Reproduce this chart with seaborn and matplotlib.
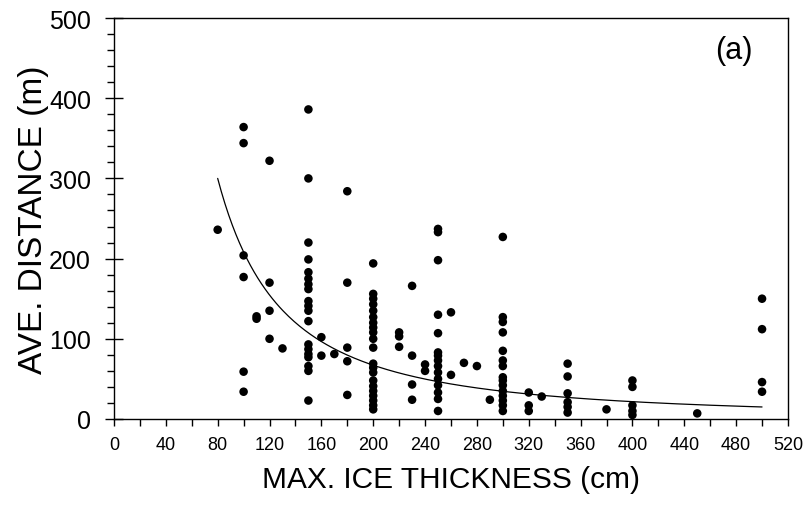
import numpy as np
import pandas as pd
import matplotlib.pyplot as plt
from matplotlib.ticker import MultipleLocator
import seaborn as sns

# max ice thickness (cm) -> measured average distances (m) at that thickness
thickness = [80, 100, 110, 120, 130, 150, 160, 170, 180, 200, 220, 230, 240, 250,
             260, 270, 280, 290, 300, 320, 330, 350, 380, 400, 450, 500]
distances = [
    [236],
    [364, 344, 204, 177, 59, 34],
    [125, 128],
    [322, 170, 135, 100],
    [88],
    [386, 300, 220, 199, 183, 175, 168, 162, 147, 141, 135, 122, 93, 87, 81, 77, 66, 60, 23],
    [102, 79],
    [81],
    [284, 170, 89, 72, 30],
    [194, 156, 150, 143, 135, 127, 120, 114, 108, 100, 89, 69, 64, 58, 48, 41, 35, 29, 23, 17, 12],
    [108, 103, 90],
    [166, 79, 43, 24],
    [68, 60],
    [237, 233, 198, 130, 107, 83, 79, 73, 66, 58, 50, 42, 33, 25, 10],
    [133, 55],
    [70],
    [66],
    [24],
    [227, 127, 121, 108, 85, 73, 66, 52, 48, 42, 35, 29, 23, 17, 10],
    [33, 17, 10],
    [28],
    [69, 53, 32, 21, 15, 8],
    [12],
    [48, 40, 17, 10, 5],
    [7],
    [150, 112, 46, 34],
]

# power-law fit  d = a * (h / 80) ** b, drawn from 80 to 500 cm
fit_a = 300.0
fit_b = -1.635
fit_range = (80, 500)

rows = [(h, d) for h, ds in zip(thickness, distances) for d in ds]
df = pd.DataFrame(rows, columns=['thickness', 'distance'])

h_fit = np.linspace(fit_range[0], fit_range[1], 300)
fit_df = pd.DataFrame({'thickness': h_fit, 'distance': fit_a * (h_fit / 80.0) ** fit_b})

sns.set_style('ticks')
plt.rcParams['font.family'] = ['Liberation Sans', 'DejaVu Sans']
plt.rcParams['text.color'] = 'black'
plt.rcParams['axes.labelcolor'] = 'black'
plt.rcParams['xtick.color'] = 'black'
plt.rcParams['ytick.color'] = 'black'

fig = plt.figure(figsize=(8.09, 5.10), dpi=100)
ax = fig.add_axes([0.1409, 0.1765, 0.8331, 0.7862])

sns.scatterplot(data=df, x='thickness', y='distance', ax=ax, color='black',
                s=38, edgecolor='none', linewidth=0, zorder=3)
sns.lineplot(data=fit_df, x='thickness', y='distance', ax=ax, color='black',
             linewidth=0.9, zorder=2)

ax.set_xlim(0, 520)
ax.set_ylim(0, 500)
ax.xaxis.set_major_locator(MultipleLocator(40))
ax.xaxis.set_minor_locator(MultipleLocator(20))
ax.yaxis.set_major_locator(MultipleLocator(100))
ax.yaxis.set_minor_locator(MultipleLocator(20))

ax.tick_params(axis='x', which='major', direction='out', length=5, width=1, labelsize=13, pad=7)
ax.tick_params(axis='x', which='minor', direction='out', length=5, width=1)
ax.tick_params(axis='y', which='major', direction='inout', length=13, width=1, labelsize=18, pad=10)
ax.tick_params(axis='y', which='minor', direction='out', length=5, width=1)

for sp in ax.spines.values():
    sp.set_linewidth(1.0)
    sp.set_color('black')

ax.set_xlabel('MAX. ICE THICKNESS (cm)', fontsize=21.5, labelpad=9)
ax.set_ylabel('AVE. DISTANCE (m)', fontsize=24, labelpad=0)
ax.text(478, 460, '(a)', fontsize=22, ha='center', va='center')

fig.savefig('out.png', dpi=100)
